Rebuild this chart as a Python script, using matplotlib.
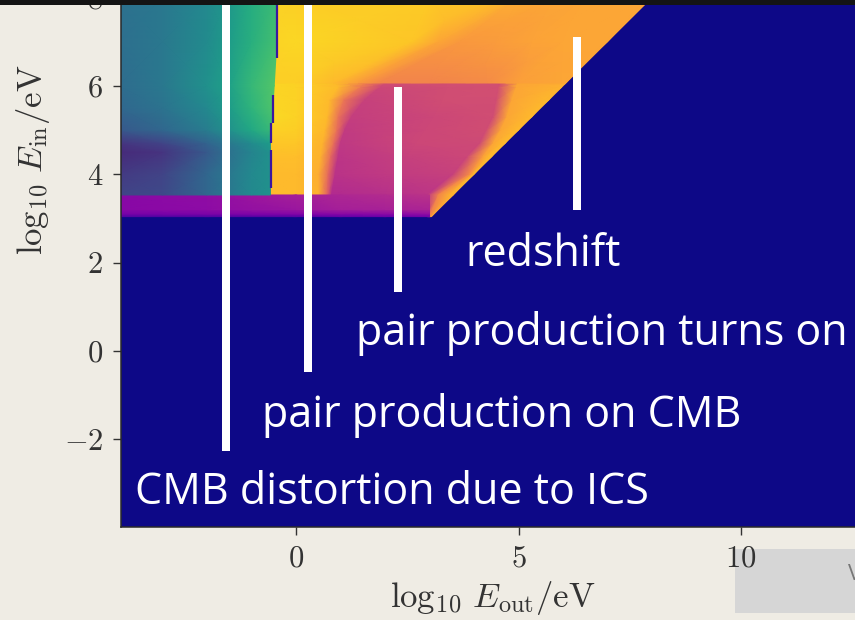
import numpy as np
import matplotlib
matplotlib.use("Agg")
import matplotlib.pyplot as plt
from matplotlib.patches import Rectangle

plt.rcParams['mathtext.fontset'] = 'cm'
plt.rcParams['font.family'] = ['cmr10', 'DejaVu Serif']
plt.rcParams['axes.formatter.use_mathtext'] = True

W, H = 855, 620
BG = '#efece4'

# ---------- data ----------
x_ticks = [0, 5, 10]
y_ticks = [-2, 0, 2, 4, 6, 8]

# upper-left region (viridis), value table
vir_x = [-4.0, -3.0, -2.0, -1.5, -1.0, -0.45]
vir_y = [3.53, 4.0, 4.5, 4.7, 5.0, 5.5, 6.0, 7.0, 8.0]
vir_edge = [-0.575, -0.575, -0.575, -0.575, -0.57, -0.52, -0.49, -0.43, -0.43]
vir_v = [
    [.20, .22, .33, .40, .47, .50],
    [.17, .20, .33, .40, .47, .50],
    [.12, .15, .28, .37, .45, .50],
    [.15, .20, .32, .40, .48, .55],
    [.27, .33, .42, .50, .60, .67],
    [.33, .38, .47, .55, .65, .72],
    [.35, .40, .50, .57, .67, .73],
    [.36, .40, .48, .55, .63, .70],
    [.37, .40, .47, .53, .62, .68],
]

# horizontal band
band_x = [-4.0, -2.0, 0.0, 1.0, 2.0, 3.0]
band_y = [3.04, 3.10, 3.20, 3.53]
band_v = [
    [.14, .14, .15, .18, .20, .22],
    [.23, .24, .26, .27, .28, .30],
    [.28, .29, .33, .36, .37, .38],
    [.28, .30, .36, .39, .41, .43],
]

# main region (plasma): warped mesh, x and value per row and column
main_y = [3.53, 4.0, 4.4, 4.7, 5.0, 5.3, 5.68, 5.97, 6.05, 6.07, 7.0, 8.0]
main_x = [
    [-.7, 0, .50, .70, .80, 2.0, 2.95, 3.20, 3.45, 3.53],
    [-.7, 0, .50, .72, .88, 2.2, 3.53, 3.90, 3.98, 4.00],
    [-.7, 0, .55, .78, .95, 2.5, 3.85, 4.20, 4.32, 4.40],
    [-.7, 0, .60, .85, 1.0, 2.7, 4.13, 4.43, 4.62, 4.70],
    [-.7, 0, .65, .92, 1.1, 2.9, 4.28, 4.60, 4.92, 5.00],
    [-.7, 0, .70, .95, 1.25, 3.1, 4.43, 4.74, 5.22, 5.30],
    [-.7, 0, .75, 1.08, 1.55, 3.3, 4.50, 4.85, 5.60, 5.68],
    [-.7, 0, .95, 1.45, 1.90, 3.4, 4.55, 4.95, 5.89, 5.97],
    [-.7, 0, .90, 1.55, 2.00, 3.4, 4.58, 4.97, 5.97, 6.05],
    [-.7, 0, .85, 1.40, 1.90, 3.0, 4.30, 5.00, 5.97, 6.07],
    [-.7, 0, 2.6, 3.20, 3.70, 4.5, 5.30, 6.00, 6.92, 7.00],
    [-.7, 0, 3.0, 4.60, 5.00, 5.8, 6.50, 7.00, 7.90, 8.00],
]
main_v = [
    [.85, .85, .83, .60, .40, .42, .44, .70, .83, .83],
    [.85, .85, .82, .62, .43, .46, .48, .72, .83, .83],
    [.86, .86, .83, .62, .44, .48, .50, .78, .84, .84],
    [.88, .88, .83, .63, .45, .50, .51, .80, .84, .84],
    [.91, .90, .84, .64, .46, .50, .52, .80, .84, .84],
    [.93, .91, .85, .65, .47, .50, .52, .80, .84, .84],
    [.92, .91, .85, .66, .48, .52, .52, .80, .84, .84],
    [.92, .91, .85, .67, .50, .52, .53, .80, .83, .83],
    [.92, .91, .85, .67, .52, .53, .53, .80, .82, .82],
    [.90, .90, .85, .77, .70, .70, .72, .78, .80, .80],
    [.91, .92, .88, .80, .76, .77, .79, .80, .80, .80],
    [.92, .90, .89, .86, .82, .80, .80, .80, .80, .80],
]

# narrow strip along the diagonal, near its lower end
strip_y = [3.04, 3.53]
strip_x = [[2.95, 3.00, 3.03, 3.04], [2.95, 3.20, 3.45, 3.53]]
strip_v = [[.40, .70, .75, .75], [.44, .70, .83, .83]]

# thin dark steps at the edge of the upper-left region
edge_segments_x = [-0.57, -0.57, -0.52, -0.43]
edge_segments_lo = [3.69, 4.71, 5.16, 6.63]
edge_segments_hi = [4.55, 5.16, 5.79, 8.0]

labels = ["CMB distortion due to ICS", "pair production on CMB",
          "pair production turns on", "redshift"]


# ---------- layout helpers (pixels -> figure fraction) ----------
def fx(px):
    return px / W


def fy(py):
    return 1 - py / H


fig = plt.figure(figsize=(W / 100, H / 100), dpi=100, facecolor=BG)
x0, x1 = -3.93, 13.0
y0, y1 = -3.98, 8.2
px_l = 296 + x0 * 44.5
px_r = 296 + x1 * 44.5
py_b = 351 - y0 * 44.2
py_t = 351 - y1 * 44.2
ax = fig.add_axes([fx(px_l), fy(py_b), (px_r - px_l) / W, (py_b - py_t) / H])
ax.set_xlim(x0, x1)
ax.set_ylim(y0, y1)
ax.set_facecolor('#0d0887')

kw = dict(cmap='plasma', vmin=0, vmax=1, shading='gouraud')
mx = np.array(main_x)
my = np.repeat(np.array(main_y)[:, None], mx.shape[1], axis=1)
ax.pcolormesh(mx, my, np.array(main_v), zorder=1, **kw)

sx = np.array(strip_x)
sy = np.repeat(np.array(strip_y)[:, None], sx.shape[1], axis=1)
ax.pcolormesh(sx, sy, np.array(strip_v), zorder=1, **kw)

bx, by = np.meshgrid(band_x, band_y)
ax.pcolormesh(bx, by, np.array(band_v), zorder=1.5, **kw)

vx = np.tile(np.array(vir_x, float), (len(vir_y), 1))
vx[:, -1] = vir_edge
vy = np.repeat(np.array(vir_y)[:, None], vx.shape[1], axis=1)
ax.pcolormesh(vx, vy, np.array(vir_v), cmap='viridis', vmin=0, vmax=1,
              shading='gouraud', zorder=2)
ax.vlines(edge_segments_x, edge_segments_lo, edge_segments_hi,
          color='#3a16a0', lw=1.6, zorder=3)

ax.set_xticks(x_ticks)
ax.set_yticks(y_ticks)
ax.set_xticklabels([f'${t}$' for t in x_ticks])
ax.set_yticklabels([f'${t}$' for t in y_ticks])
ax.tick_params(length=6, width=1, labelsize=22, colors='#333333', pad=7)
for s in ax.spines.values():
    s.set_color('#2a2a2a')
    s.set_linewidth(1.1)
fig.text(fx(493), fy(598), r'$\log_{10}\,E_\mathrm{out}/\mathrm{eV}$', fontsize=25,
         color='#333333', ha='center', va='center')
fig.text(fx(33), fy(160), r'$\log_{10}\,E_\mathrm{in}/\mathrm{eV}$', fontsize=25,
         color='#333333', ha='center', va='center', rotation=90)

# overlays
for (a, b, t, u) in [(222, 230, 5, 451), (304, 312, 5, 372),
                     (394, 402, 87, 292), (573, 581, 37, 210)]:
    fig.add_artist(Rectangle((fx(a), fy(u)), (b - a) / W, (u - t) / H,
                             transform=fig.transFigure, color='white', lw=0, zorder=5))
for s, px, py in zip(labels, [135, 262, 356, 465], [493, 416, 334, 255]):
    fig.text(fx(px), fy(py), s, color='white', fontsize=31, family='Open Sans',
             ha='left', va='center', zorder=6)

fig.add_artist(Rectangle((fx(735), fy(613)), 120 / W, 64 / H, transform=fig.transFigure,
                         color='#d6d6d6', lw=0, zorder=-1))
fig.text(fx(848), fy(574), 'V', color='#777777', fontsize=16, family='Open Sans',
         ha='left', va='center', zorder=8)
fig.add_artist(Rectangle((0, fy(5)), 1, 5 / H, transform=fig.transFigure,
                         color='#141414', lw=0, zorder=9))

fig.savefig('out.png', dpi=100, facecolor=BG)
